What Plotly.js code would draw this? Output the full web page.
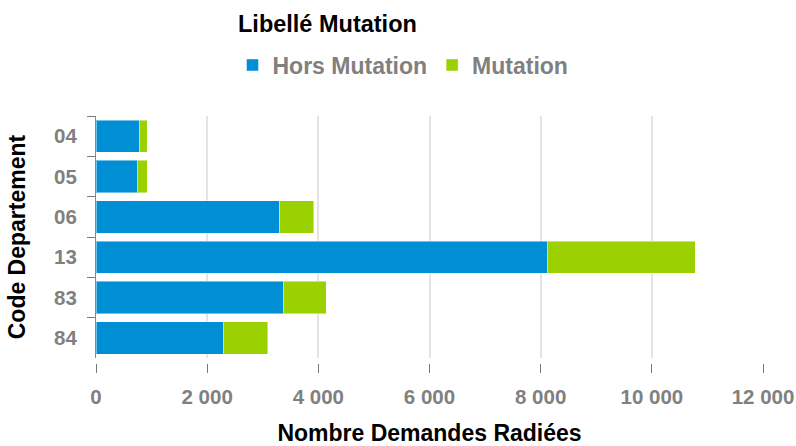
<!DOCTYPE html>
<html>
<head>
<meta charset="utf-8">
<script src="https://cdn.plot.ly/plotly-3.0.1.min.js"></script>
<style>
html,body{margin:0;padding:0;background:#fff;}
#chart{width:796px;height:446px;}
#chart path.legendbar{transform: translate(20px, 0px) scale(1.5, 1.42);}
</style>
</head>
<body>
<div id="chart"></div>
<script>
const departements = ["04", "05", "06", "13", "83", "84"];
const horsMutation = [780, 745, 3310, 8115, 3380, 2290];
const mutation = [145, 180, 610, 2665, 760, 800];
const xTicks = [0, 2000, 4000, 6000, 8000, 10000, 12000];

const FONT = '"Liberation Sans", Arial, sans-serif';
const GREY = '#808080';

const traces = [
  {type: 'bar', orientation: 'h', name: 'Hors Mutation', y: departements, x: horsMutation,
   marker: {color: '#008fd5', line: {color: 'rgba(255,255,255,0.45)', width: 1}}},
  {type: 'bar', orientation: 'h', name: 'Mutation', y: departements, x: mutation,
   marker: {color: '#9bd100', line: {color: 'rgba(255,255,255,0.45)', width: 1}}}
];

const layout = {
  width: 796, height: 446,
  margin: {l: 96, r: 33, t: 116, b: 83},
  barmode: 'stack', bargap: 0.2,
  separators: ', ',
  paper_bgcolor: '#fff', plot_bgcolor: '#fff',
  font: {family: FONT, size: 20, color: GREY, weight: 'bold'},
  title: {text: '<b>Libellé Mutation</b>', x: 238/796, xanchor: 'left', xref: 'container',
          y: 1 - 24/446, yanchor: 'middle', yref: 'container',
          font: {family: FONT, size: 23.5, color: '#000'}},
  showlegend: true,
  legend: {orientation: 'h', x: 232.5/796, xanchor: 'left', xref: 'container',
           y: 1 - 65/446, yanchor: 'middle', yref: 'container',
           font: {family: FONT, size: 23, color: GREY, weight: 'bold'},
           traceorder: 'normal', bgcolor: 'rgba(0,0,0,0)'},
  xaxis: {range: [0, 12000], tickvals: xTicks, tickformat: ',d',
          anchor: 'free', position: 0,
          showgrid: true, gridcolor: '#e4e4e4', gridwidth: 2,
          zeroline: false, showline: false,
          ticks: 'outside', ticklen: 9, tickwidth: 1, tickcolor: '#777',
          ticklabelstandoff: 6,
          tickfont: {family: FONT, size: 20.5, color: GREY, weight: 'bold'},
          title: {text: '<b>Nombre Demandes Radiées</b>', standoff: 25,
                  font: {family: FONT, size: 23, color: '#000'}}},
  yaxis: {type: 'category', categoryorder: 'array', categoryarray: departements,
          autorange: 'reversed', domain: [0.02, 1],
          showgrid: false, zeroline: false,
          showline: true, linecolor: '#888', linewidth: 1,
          ticks: 'outside', tickson: 'boundaries', ticklen: 8, tickcolor: '#777', tickwidth: 1,
          ticklabelstandoff: 14,
          tickfont: {family: FONT, size: 20.5, color: GREY, weight: 'bold'},
          title: {text: '<b>Code Departement</b>', standoff: 22,
                  font: {family: FONT, size: 23, color: '#000'}}}
};

Plotly.newPlot('chart', traces, layout, {displayModeBar: false, staticPlot: true});
</script>
</body>
</html>
